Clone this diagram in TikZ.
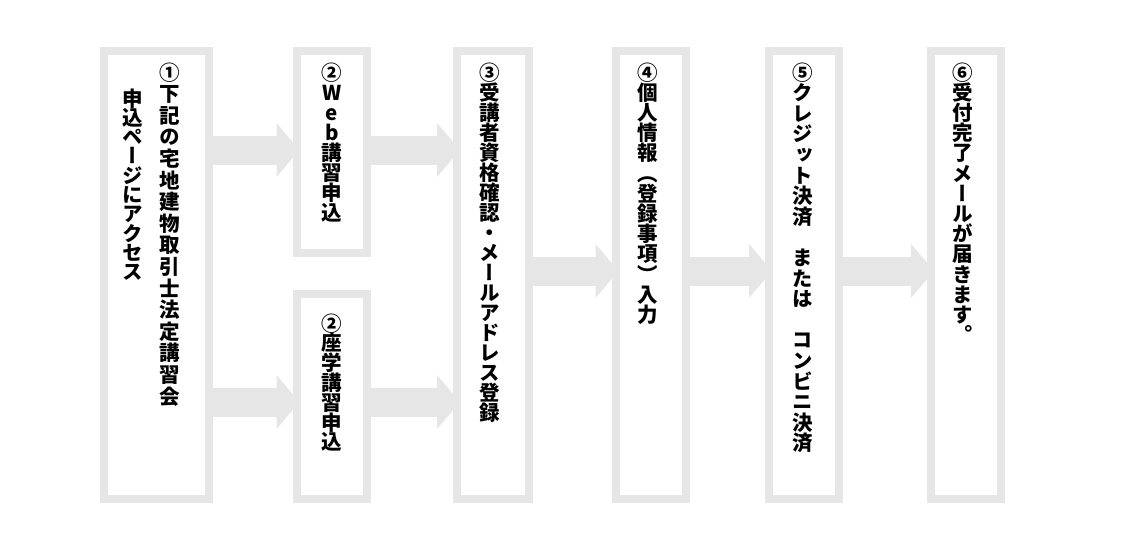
\documentclass[tikz,border=0pt]{standalone}
\usepackage{fontspec}
\newfontfamily\tatefont[RawFeature=+vert]{Noto Sans CJK JP}
\usetikzlibrary{arrows.meta}

\definecolor{boxgray}{RGB}{230,230,230}

% vertical column: one character per line
\makeatletter
\newcommand\tate[2][20.5pt]{\vtop{\hsize=30pt\parindent=0pt\centering
  \baselineskip=#1\relax\lineskiplimit=-\maxdimen
  \@tfor\tate@c:=#2\do{\tate@c\par}}}
\makeatother

\begin{document}
\begin{tikzpicture}[x=1pt, y=-1pt,
    stepbox/.style={draw=boxgray, line width=8pt, fill=white, minimum width=70pt, minimum height=448pt, inner sep=0pt},
    tatetext/.style={inner sep=0pt, anchor=base, font=\tatefont\bfseries\fontsize{20.5}{20.5}\selectfont},
    flow/.style={draw=boxgray, line width=29pt, -{Triangle[length=23pt, width=54pt, line width=0pt]}, shorten >=-7pt}]
	\useasboundingbox (0,0) rectangle (1140,550);
	% Boxes
	\node[stepbox, minimum width=105pt] (b1) at (156.5,275) {};
	\node[stepbox, minimum height=202pt] (b2a) at (331.5,152) {};
	\node[stepbox, minimum height=205pt] (b2b) at (331.5,396.5) {};
	\node[stepbox, minimum width=72pt] (b3) at (493,275) {};
	\node[stepbox] (b4) at (650.5,275) {};
	\node[stepbox] (b5) at (804,275) {};
	\node[stepbox] (b6) at (966,275) {};
	% Texts
	\node[tatetext] (t1a) at (170,80) {\tate[21.6pt]{①下記の宅地建物取引士法定講習会}};
	\node[tatetext] (t1b) at (133,106) {\tate[19.3pt]{申込ページにアクセス}};
	\node[tatetext] (t2a) at (332,80) {\tate[20pt]{②Web講習申込}};
	\node[tatetext] (t2b) at (332,331) {\tate[19.8pt]{②座学講習申込}};
	\node[tatetext] (t3) at (490,80) {\tate[20pt]{③受講者資格確認・メールアドレス登録}};
	\node[tatetext] (t4) at (648,80) {\tate[20.2pt]{④個人情報（登録事項）入力}};
	\node[tatetext] (t5) at (803,80) {\tate[20.6pt]{⑤クレジット決済　または　コンビニ決済}};
	\node[tatetext] (t6) at (963,80) {\tate[20.2pt]{⑥受付完了メールが届きます。}};
	% Rows of arrows
	\coordinate (toprow) at (0,150);
	\coordinate (lowrow) at (0,402);
	\coordinate (midrow) at (0,271);
	% Arrows
	\draw[flow] (b1.east |- toprow) -- (b2a.west |- toprow);
	\draw[flow] (b1.east |- lowrow) -- (b2b.west |- lowrow);
	\draw[flow] (b2a.east |- toprow) -- (b3.west |- toprow);
	\draw[flow] (b2b.east |- lowrow) -- (b3.west |- lowrow);
	\draw[flow] (b3.east |- midrow) -- (b4.west |- midrow);
	\draw[flow] (b4.east |- midrow) -- (b5.west |- midrow);
	\draw[flow] (b5.east |- midrow) -- (b6.west |- midrow);
\end{tikzpicture}
\end{document}
